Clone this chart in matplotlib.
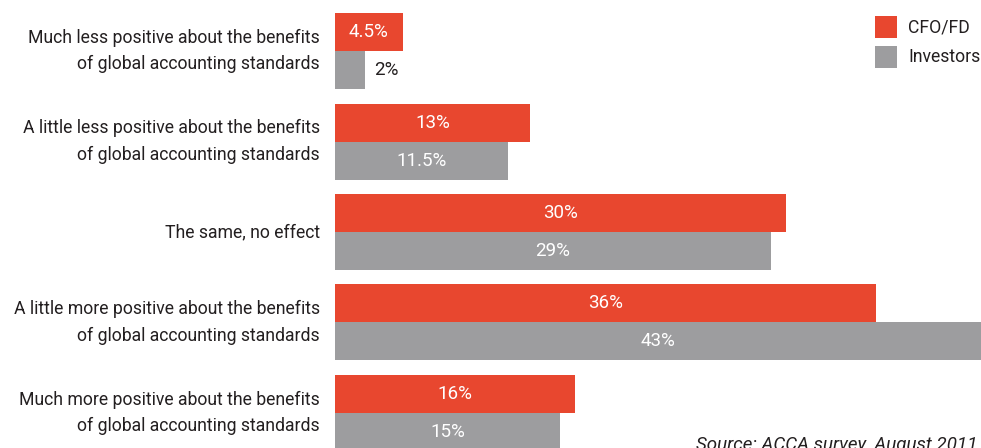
import numpy as np
import matplotlib.pyplot as plt
from matplotlib.patches import Rectangle

# ── Données ────────────────────────────────────────────────────────────────
categories = [
    "Much less positive about the benefits\nof global accounting standards",
    "A little less positive about the benefits\nof global accounting standards",
    "The same, no effect",
    "A little more positive about the benefits\nof global accounting standards",
    "Much more positive about the benefits\nof global accounting standards",
]
cfo_values = [4.5, 13, 30, 36, 16]
investor_values = [2, 11.5, 29, 43, 15]
cfo_labels = ["4.5%", "13%", "30%", "36%", "16%"]
investor_labels = ["2%", "11.5%", "29%", "43%", "15%"]
series_names = ["CFO/FD", "Investors"]

RED = '#e8472f'
GREY = '#9d9d9f'
TXT = '#231f20'
FONT = 'Roboto'

fig = plt.figure(figsize=(9.81, 4.48), dpi=100)
ax = fig.add_axes([335 / 981, 0, 646 / 981, 1])
ax.set_xlim(0, 43)
ax.set_ylim(4.387, -0.564)
ax.axis('off')

h = 0.42
y = np.arange(len(categories))
ax.barh(y - h / 2, cfo_values, height=h, color=RED, linewidth=0)
ax.barh(y + h / 2, investor_values, height=h, color=GREY, linewidth=0)

# étiquettes de valeur : blanches dans la barre, noires à côté si la barre est trop courte
for i in range(len(categories)):
    for val, lab, yy in [(cfo_values[i], cfo_labels[i], y[i] - h / 2),
                         (investor_values[i], investor_labels[i], y[i] + h / 2)]:
        if val >= 4:
            ax.text(val / 2, yy, lab, ha='center', va='center', color='white',
                    fontsize=13.5, family=FONT)
        else:
            ax.text(val + 0.6, yy, lab, ha='left', va='center', color=TXT,
                    fontsize=13.5, family=FONT)
    ax.text(-1.0, y[i], categories[i], ha='right', va='center', color=TXT,
            fontsize=12.7, family=FONT, linespacing=1.62, clip_on=False)

# légende
for k, (name, col) in enumerate(zip(series_names, [RED, GREY])):
    top = 16 + k * 30
    fig.patches.append(Rectangle((875 / 981, 1 - (top + 22) / 448), 22 / 981, 22 / 448,
                                 transform=fig.transFigure, color=col, linewidth=0))
    fig.text(908 / 981, 1 - (top + 11) / 448, name, ha='left', va='center',
             color=TXT, fontsize=12.7, family=FONT)

fig.text(978 / 981, 1 - 445 / 448, "Source: ACCA survey, August 2011", ha='right',
         va='center', color=TXT, fontsize=13.5, style='italic', family=FONT)

fig.savefig('out.png', dpi=100)
